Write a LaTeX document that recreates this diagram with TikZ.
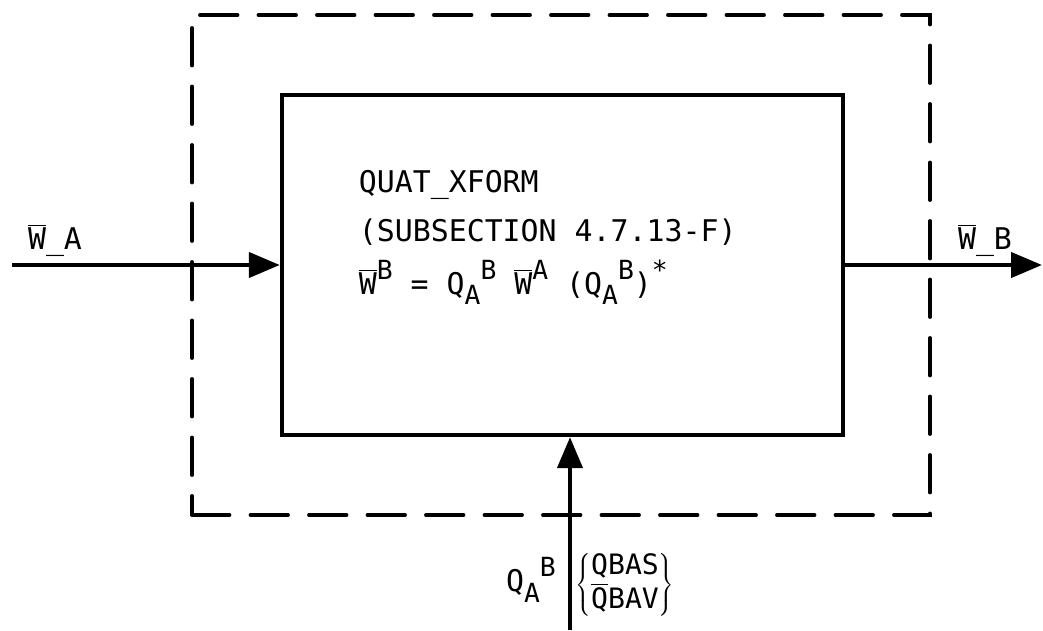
\documentclass[tikz,border=0pt]{standalone}
\usepackage{fontspec}
\setmainfont{DejaVu Sans Mono}
\usepackage{tikz}
\usetikzlibrary{arrows.meta,positioning,calc}

\newcommand{\ovl}[1]{\ensuremath{\overline{\hbox{#1}}}}
\newcommand{\sps}[1]{\raisebox{0.5em}{\fontsize{15}{15}\selectfont #1}}
\newcommand{\sbs}[1]{\raisebox{-0.35em}{\fontsize{15}{15}\selectfont #1}}

\begin{document}
\begin{tikzpicture}[
  envbox/.style={rectangle, draw=black, line width=2.2pt, line cap=round,
                 dash pattern=on 0.75cm off 0.42cm, minimum width=14.76cm,
                 minimum height=10cm, inner sep=0pt},
  box/.style={rectangle, draw=black, line width=2.5pt, fill=white,
              minimum width=11.22cm, minimum height=6.8cm, inner sep=0pt},
  arr/.style={-{Triangle[length=0.62cm,width=0.5cm]}, line width=2.5pt},
  lbl/.style={font=\fontsize{17}{24}\selectfont, inner sep=2pt},
]
\useasboundingbox (0,0) rectangle (20.86,12.6);

%% Dashed boundary and transform block
\node[envbox] (env) at (11.22,7.3) {};
\node[box] (xf) at (11.25,7.3) {};
\node[lbl, anchor=west, align=left] (txt) at (7.1,7.85)
  {QUAT\_XFORM\\[4pt]
   (SUBSECTION 4.7.13-F)\\[6pt]
   \ovl{W}\sps{B} = Q\sbs{A}\sps{B} \ovl{W}\sps{A} (Q\sbs{A}\sps{B})\sps{*}};

%% Input / output
\coordinate (in) at (0.24,7.3);
\coordinate (out) at (20.84,7.3);
\coordinate (src) at (11.4,0);
\node[lbl] (wa) at (1.1,7.8) {\ovl{W}\_A};
\node[lbl] (wb) at (19.7,7.8) {\ovl{W}\_B};
\node[lbl] (qab) at (10.62,1.0) {Q\sbs{A}\sps{B}};
\node[lbl, font=\fontsize{16}{20}\selectfont] (qsrc) at (12.5,0.9)
  {\renewcommand{\arraystretch}{0.88}%
   $\left\{\begin{array}{@{}l@{}}\mbox{QBAS}\\\mbox{\ovl{Q}BAV}\end{array}\right\}$};

\draw[arr] (in) -- (xf.west);
\draw[arr] (xf.east) -- (out);
\draw[arr] (src) -- (src |- xf.south);

\end{tikzpicture}
\end{document}
